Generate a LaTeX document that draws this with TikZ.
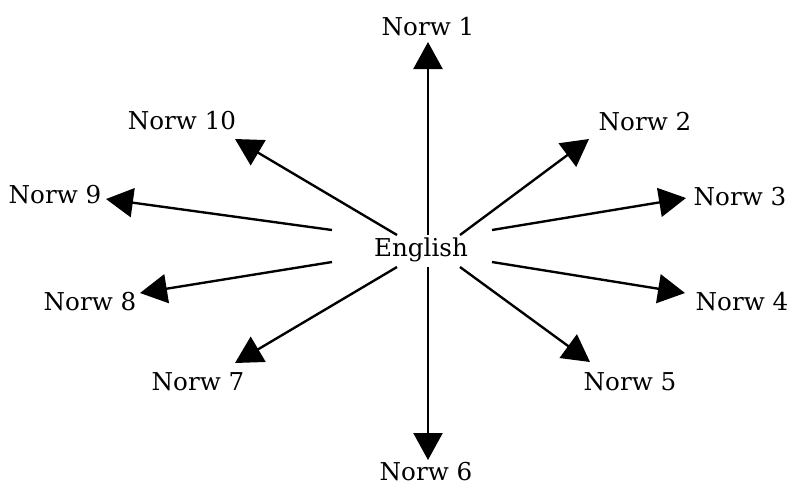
\documentclass[tikz,border=0pt]{standalone}
\usepackage{fontspec}
\setmainfont{DejaVu Serif}
\usetikzlibrary{arrows.meta}

\begin{document}
\begin{tikzpicture}[x=0.02cm, y=-0.02cm,
lang/.style={inner sep=0pt, anchor=base, font=\fontsize{14}{17}\selectfont},
out_arrow/.style={-{Triangle[length=0.54cm, width=0.58cm]}, line width=1.35pt}
]
\useasboundingbox (0,0) rectangle (789,485);

\node[lang](english) at (421,256) {English};

\node[lang](norw1) at (428,35) {Norw 1};
\node[lang](norw2) at (645,130) {Norw 2};
\node[lang](norw3) at (740,205) {Norw 3};
\node[lang](norw4) at (742,310) {Norw 4};
\node[lang](norw5) at (630,390) {Norw 5};
\node[lang](norw6) at (426,480) {Norw 6};
\node[lang](norw7) at (198,390) {Norw 7};
\node[lang](norw8) at (90,310) {Norw 8};
\node[lang](norw9) at (55,203) {Norw 9};
\node[lang](norw10) at (182,129) {Norw 10};

\draw[out_arrow] ([shift={(7,-21)}]english.base) -- ([shift={(0,7)}]norw1.base);
\draw[out_arrow] ([shift={(39,-21)}]english.base) -- ([shift={(-56,9)}]norw2.base);
\draw[out_arrow] ([shift={(71,-26)}]english.base) -- ([shift={(-54,-7)}]norw3.base);
\draw[out_arrow] ([shift={(71,6)}]english.base) -- ([shift={(-57,-17)}]norw4.base);
\draw[out_arrow] ([shift={(39,11)}]english.base) -- ([shift={(-40,-28)}]norw5.base);
\draw[out_arrow] ([shift={(7,11)}]english.base) -- ([shift={(2,-20)}]norw6.base);
\draw[out_arrow] ([shift={(-24,11)}]english.base) -- ([shift={(37,-27)}]norw7.base);
\draw[out_arrow] ([shift={(-89,6)}]english.base) -- ([shift={(50,-17)}]norw8.base);
\draw[out_arrow] ([shift={(-89,-26)}]english.base) -- ([shift={(51,-4)}]norw9.base);
\draw[out_arrow] ([shift={(-24,-21)}]english.base) -- ([shift={(53,10)}]norw10.base);
\end{tikzpicture}
\end{document}
